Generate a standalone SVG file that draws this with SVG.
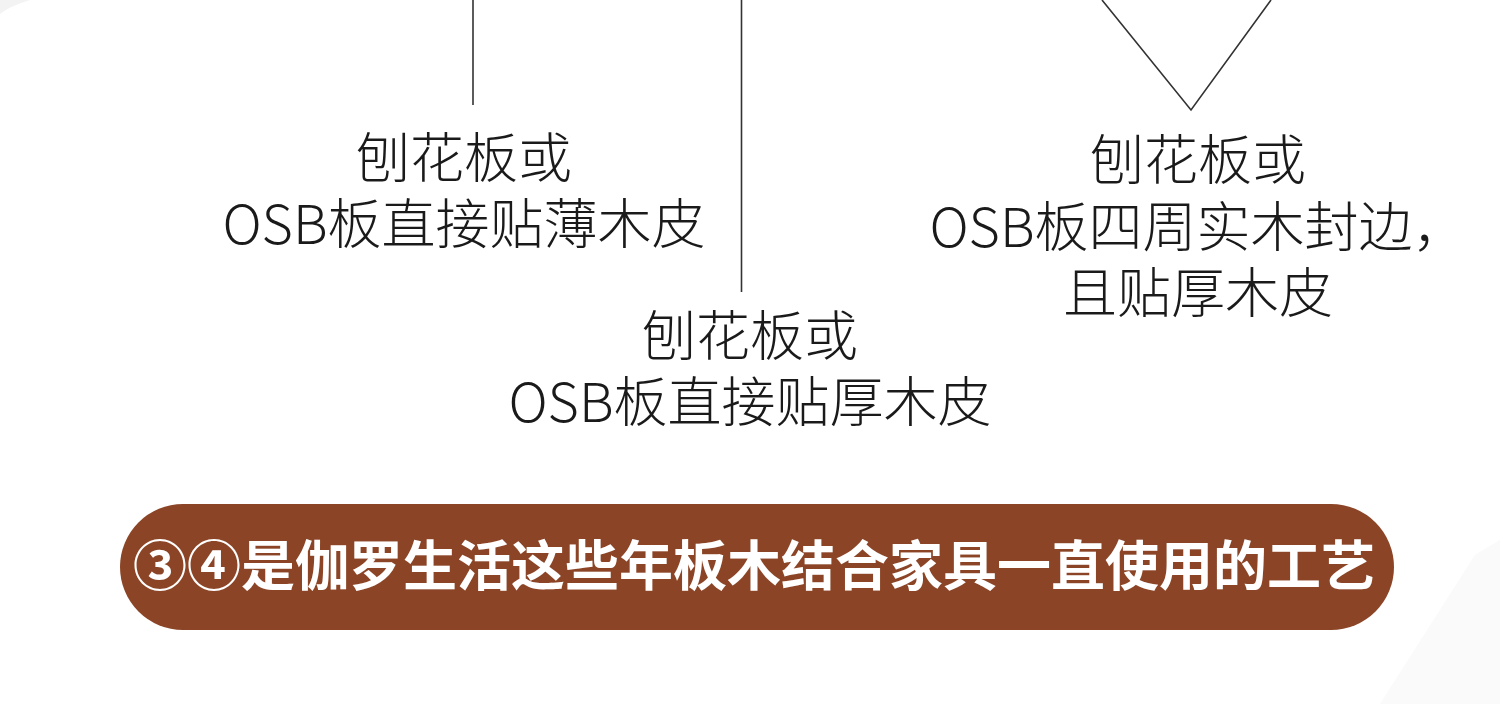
<svg xmlns="http://www.w3.org/2000/svg" width="1500" height="704" viewBox="0 0 1500 704">
<style>
.lbl{font-family:"Noto Sans CJK SC","Noto Sans",sans-serif;font-weight:300;font-size:54px;fill:#1a1a1a;text-anchor:middle}
.ban{font-family:"Noto Sans CJK SC","Noto Sans",sans-serif;font-weight:700;font-size:54px;fill:#ffffff;text-anchor:middle}
.con{stroke:#333;stroke-width:1.6;fill:none}
</style>
<rect width="1500" height="704" fill="#ffffff"/>
<path d="M0,0 L30,0 Q10,6 0,14 Z" fill="#f3f3f3"/>
<path d="M1475,555 L1500,540 L1500,704 L1380,704 Z" fill="#fafafa"/>
<g id="connectors">
<line class="con" x1="473" y1="0" x2="473" y2="105"/>
<line class="con" x1="741.5" y1="0" x2="741.5" y2="292"/>
<polyline class="con" points="1102,0 1191,110 1271,0"/>
</g>
<g id="node1">
<text class="lbl" x="464" y="178">刨花板或</text>
<text class="lbl" x="464" y="244">OSB板直接贴薄木皮</text>
</g>
<g id="node2">
<text class="lbl" x="750" y="356">刨花板或</text>
<text class="lbl" x="750" y="422">OSB板直接贴厚木皮</text>
</g>
<g id="node3">
<text class="lbl" x="1198" y="180">刨花板或</text>
<text class="lbl" x="1198" y="247">OSB板四周实木封边，</text>
<text class="lbl" x="1198" y="313">且贴厚木皮</text>
</g>
<g id="banner">
<rect x="120" y="504" width="1274" height="126" rx="63" fill="#8b4426"/>
<text class="ban" x="754" y="586">③④是伽罗生活这些年板木结合家具一直使用的工艺</text>
</g>
</svg>
